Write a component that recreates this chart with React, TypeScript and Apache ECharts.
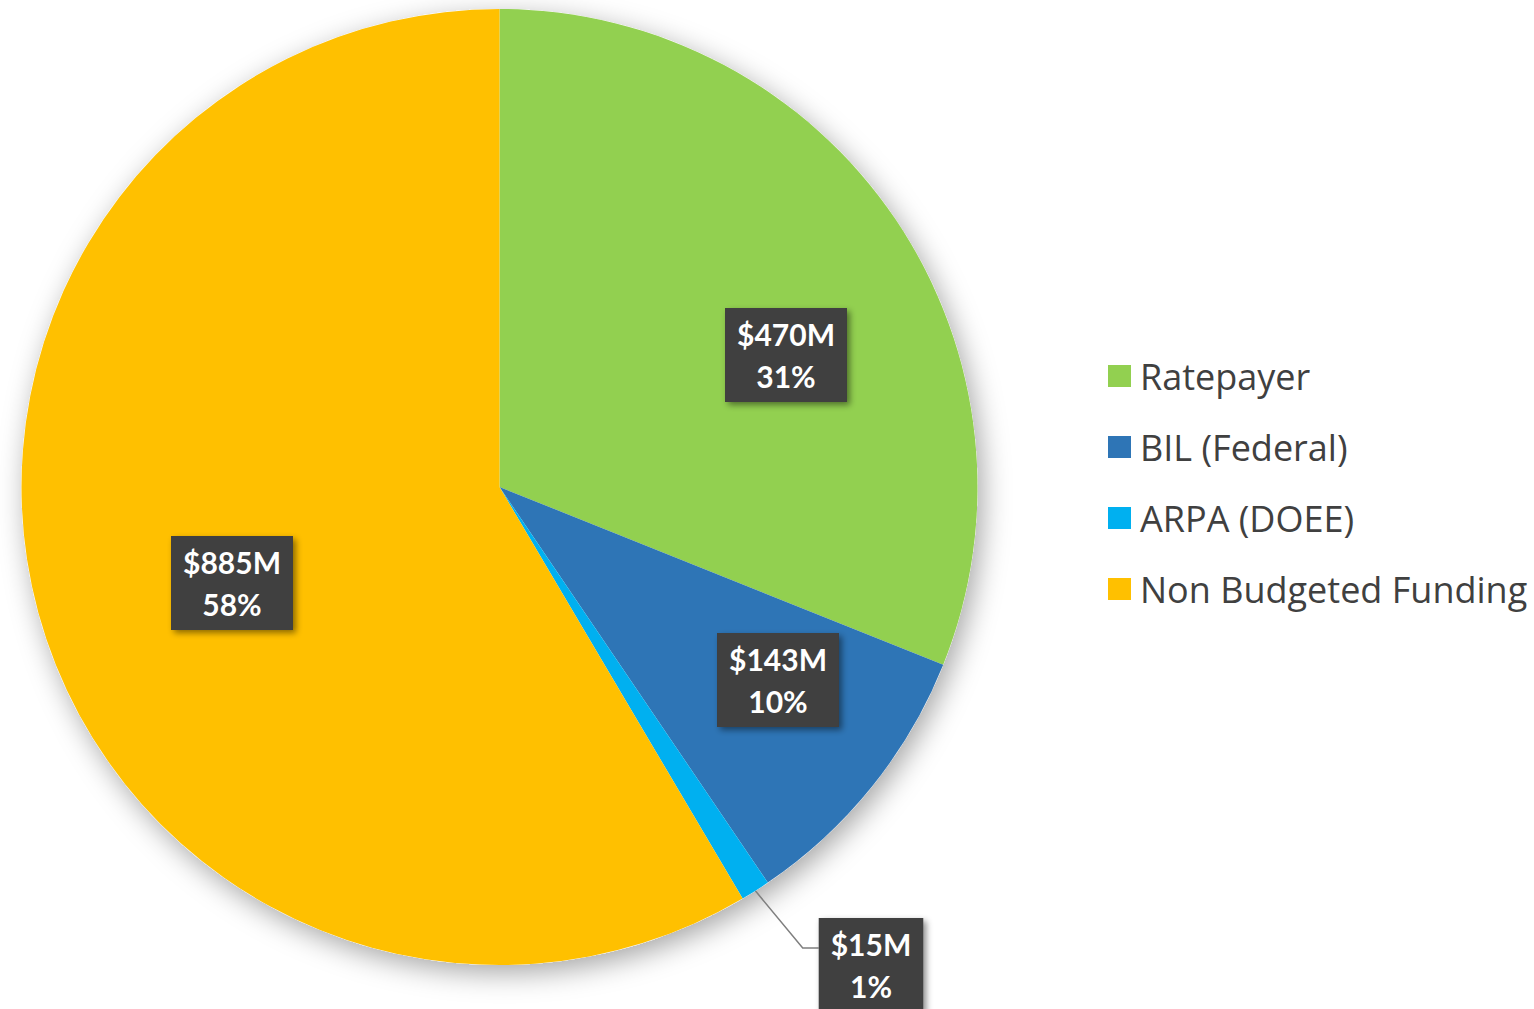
import React, { useEffect, useRef } from "react";
import * as echarts from "echarts";

const CATEGORIES = ["Ratepayer", "BIL (Federal)", "ARPA (DOEE)", "Non Budgeted Funding"];
const VALUES_M = [470, 143, 15, 885];
const PERCENT_LABELS = [31, 10, 1, 58];
const COLORS = ["#92D050", "#2E75B6", "#00B0F0", "#FFC000"];

// label box centres (layout only)
const LABEL_CENTERS: number[][] = [
  [786, 355],
  [778, 680],
  [871, 965],
  [232, 583],
];

export default function App() {
  const ref = useRef<HTMLDivElement>(null);

  useEffect(() => {
    if (!ref.current) return;
    const chart = echarts.init(ref.current, null, { renderer: "svg" });

    const labelBase = {
      show: true,
      position: "inside",
      formatter: (p: any) => `$${p.value}M\n${PERCENT_LABELS[p.dataIndex]}%`,
      color: "#FFFFFF",
      fontFamily: "Lato, 'Open Sans', sans-serif",
      fontWeight: "bold",
      fontSize: 30,
      lineHeight: 42,
      align: "center",
      backgroundColor: "#3F3F3F",
      padding: [5, 12, 5, 12],
      shadowBlur: 6,
      shadowOffsetX: 3,
      shadowOffsetY: 3,
      shadowColor: "rgba(0,0,0,0.45)",
    };

    const data = CATEGORIES.map((name, i) => ({
      name,
      value: VALUES_M[i],
      itemStyle: { color: COLORS[i] },
      label: i === 2 ? { ...labelBase, position: "outside" } : labelBase,
      labelLine:
        i === 2
          ? { show: true, length: 70, length2: 16, lineStyle: { color: "#7F7F7F", width: 1.5 } }
          : { show: false },
    }));

    chart.setOption({
      animation: false,
      backgroundColor: "#FFFFFF",
      legend: {
        data: CATEGORIES,
        orient: "vertical",
        left: 1103,
        top: 351,
        icon: "rect",
        itemWidth: 23,
        itemHeight: 22,
        itemGap: 31,
        textStyle: {
          fontFamily: "'Open Sans', Lato, sans-serif",
          fontSize: 36,
          lineHeight: 40,
          color: "#404040",
          padding: [0, 0, 0, 4],
        },
      },
      series: [
        {
          type: "pie",
          name: "shadow",
          silent: true,
          center: [499.5, 487],
          radius: 478,
          z: 1,
          label: { show: false },
          labelLine: { show: false },
          itemStyle: {
            color: "#FFFFFF",
            shadowBlur: 28,
            shadowOffsetX: 5,
            shadowOffsetY: 8,
            shadowColor: "rgba(0,0,0,0.35)",
          },
          data: [{ value: 1, name: "_shadow" }],
        },
        {
          type: "pie",
          name: "Funding",
          center: [499.5, 487],
          radius: 478,
          startAngle: 90,
          clockwise: true,
          z: 2,
          avoidLabelOverlap: false,
          itemStyle: { borderWidth: 0 },
          data,
          labelLayout: (params: any) => {
            const c = LABEL_CENTERS[params.dataIndex];
            if (!c) return {};
            const out: any = {
              x: c[0],
              y: c[1],
              align: "center",
              verticalAlign: "middle",
            };
            if (params.dataIndex === 2) {
              const pts = params.labelLinePoints;
              if (pts && pts.length) {
                const start = pts[0];
                const left = params.labelRect.width ? c[0] - params.labelRect.width / 2 : 821;
                const yLine = c[1] - 17;
                out.labelLinePoints = [start, [left - 16, yLine], [left, yLine]];
              }
            }
            return out;
          },
        },
      ],
    });

    return () => chart.dispose();
  }, []);

  return (
    <div
      ref={ref}
      style={{ position: "absolute", left: 0, top: 0, width: 1534, height: 1009 }}
    />
  );
}
